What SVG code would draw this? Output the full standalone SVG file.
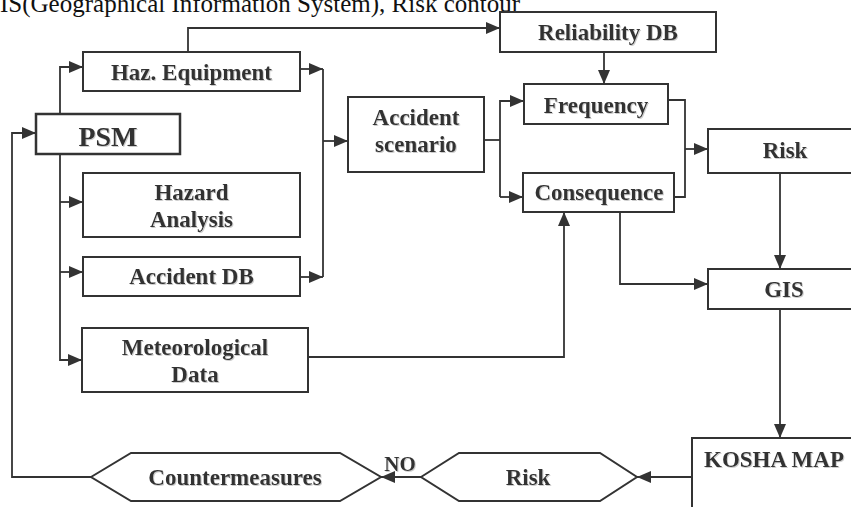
<svg xmlns="http://www.w3.org/2000/svg" width="851" height="507" viewBox="0 0 851 507">
<style>
.box{fill:#fff;stroke:#333;stroke-width:2}
.psm{fill:#fff;stroke:#333;stroke-width:2.5}
.lbl{font-family:"Liberation Serif","Times New Roman",serif;font-weight:bold;font-size:23px;fill:#333;text-anchor:middle}
.big{font-size:28px}
.con{fill:none;stroke:#333;stroke-width:1.8}
.title{font-family:"Liberation Serif","Times New Roman",serif;font-size:25px;fill:#111}
</style>
<defs>
<marker id="ah" viewBox="0 0 14 12" refX="14" refY="6" markerWidth="14" markerHeight="12" markerUnits="userSpaceOnUse" orient="auto">
<path d="M0,0 L14,6 L0,12 z" fill="#333"/>
</marker>
<filter id="sh" x="-5%" y="-20%" width="110%" height="140%">
<feDropShadow dx="1" dy="1" stdDeviation="0.5" flood-color="#aaa" flood-opacity="0.6"/>
</filter>
</defs>
<rect width="851" height="507" fill="#fff"/>
<text class="title" x="0" y="12">IS(Geographical Information System), Risk contour</text>

<g id="connectors">
<path class="con" d="M60,114 V67 H83" marker-end="url(#ah)"/>
<path class="con" d="M60,154 V360 H82" marker-end="url(#ah)"/>
<path class="con" d="M60,202 H83" marker-end="url(#ah)"/>
<path class="con" d="M60,272 H83" marker-end="url(#ah)"/>
<path class="con" d="M300,69 H323" marker-end="url(#ah)"/>
<path class="con" d="M300,277 H323" marker-end="url(#ah)"/>
<path class="con" d="M323,69 V277"/>
<path class="con" d="M323,141 H348" marker-end="url(#ah)"/>
<path class="con" d="M188,52 V28 H500" marker-end="url(#ah)"/>
<path class="con" d="M604,52 V84" marker-end="url(#ah)"/>
<path class="con" d="M484,140 H500"/>
<path class="con" d="M500,197 V101 H524" marker-end="url(#ah)"/>
<path class="con" d="M500,197 H523" marker-end="url(#ah)"/>
<path class="con" d="M668,100 H685 V197 H674"/>
<path class="con" d="M685,149 H708" marker-end="url(#ah)"/>
<path class="con" d="M780,173 V269" marker-end="url(#ah)"/>
<path class="con" d="M620,212 V284 H708" marker-end="url(#ah)"/>
<path class="con" d="M308,357 H564 V212" marker-end="url(#ah)"/>
<path class="con" d="M780,309 V438" marker-end="url(#ah)"/>
<path class="con" d="M692,477 H637" marker-end="url(#ah)"/>
<path class="con" d="M421,477 H381" marker-end="url(#ah)"/>
<path class="con" d="M91,477 H12 V133 H36" marker-end="url(#ah)"/>
</g>

<g id="haz-equipment">
<rect class="box" x="83" y="52" width="217" height="39"/>
<text class="lbl" filter="url(#sh)" x="191.5" y="80">Haz. Equipment</text>
</g>
<g id="psm">
<rect class="psm" x="36" y="114" width="144" height="40"/>
<text class="lbl big" filter="url(#sh)" x="108" y="146">PSM</text>
</g>
<g id="hazard-analysis">
<rect class="box" x="83" y="173" width="217" height="64"/>
<text class="lbl" filter="url(#sh)" x="191.5" y="200">Hazard</text>
<text class="lbl" filter="url(#sh)" x="191.5" y="227">Analysis</text>
</g>
<g id="accident-db">
<rect class="box" x="83" y="257" width="217" height="39"/>
<text class="lbl" filter="url(#sh)" x="191.5" y="284">Accident DB</text>
</g>
<g id="meteorological-data">
<rect class="box" x="82" y="328" width="226" height="64"/>
<text class="lbl" filter="url(#sh)" x="195" y="355">Meteorological</text>
<text class="lbl" filter="url(#sh)" x="195" y="382">Data</text>
</g>
<g id="accident-scenario">
<rect class="box" x="348" y="97" width="136" height="75"/>
<text class="lbl" filter="url(#sh)" x="416" y="125">Accident</text>
<text class="lbl" filter="url(#sh)" x="416" y="152">scenario</text>
</g>
<g id="reliability-db">
<rect class="box" x="500" y="12" width="216" height="40"/>
<text class="lbl" filter="url(#sh)" x="608" y="40">Reliability DB</text>
</g>
<g id="frequency">
<rect class="box" x="524" y="84" width="144" height="40"/>
<text class="lbl" filter="url(#sh)" x="596" y="113">Frequency</text>
</g>
<g id="consequence">
<rect class="box" x="523" y="173" width="151" height="39"/>
<text class="lbl" filter="url(#sh)" x="599" y="200">Consequence</text>
</g>
<g id="risk">
<rect class="box" x="708" y="129" width="146" height="44"/>
<text class="lbl" filter="url(#sh)" x="785" y="158">Risk</text>
</g>
<g id="gis">
<rect class="box" x="708" y="269" width="146" height="40"/>
<text class="lbl" filter="url(#sh)" x="784" y="297">GIS</text>
</g>
<g id="kosha-map">
<rect class="box" x="692" y="438" width="162" height="75"/>
<text class="lbl" filter="url(#sh)" x="774" y="467">KOSHA MAP</text>
</g>
<g id="risk-decision">
<polygon class="box" points="421,477 459,453 600,453 637,477 600,501 459,501"/>
<text class="lbl" filter="url(#sh)" x="528" y="485">Risk</text>
</g>
<g id="countermeasures">
<polygon class="box" points="91,477 131,453 340,453 381,477 340,501 131,501"/>
<text class="lbl" filter="url(#sh)" x="235" y="485">Countermeasures</text>
</g>
<text class="lbl" filter="url(#sh)" x="400" y="471" style="font-size:21px">NO</text>
</svg>
